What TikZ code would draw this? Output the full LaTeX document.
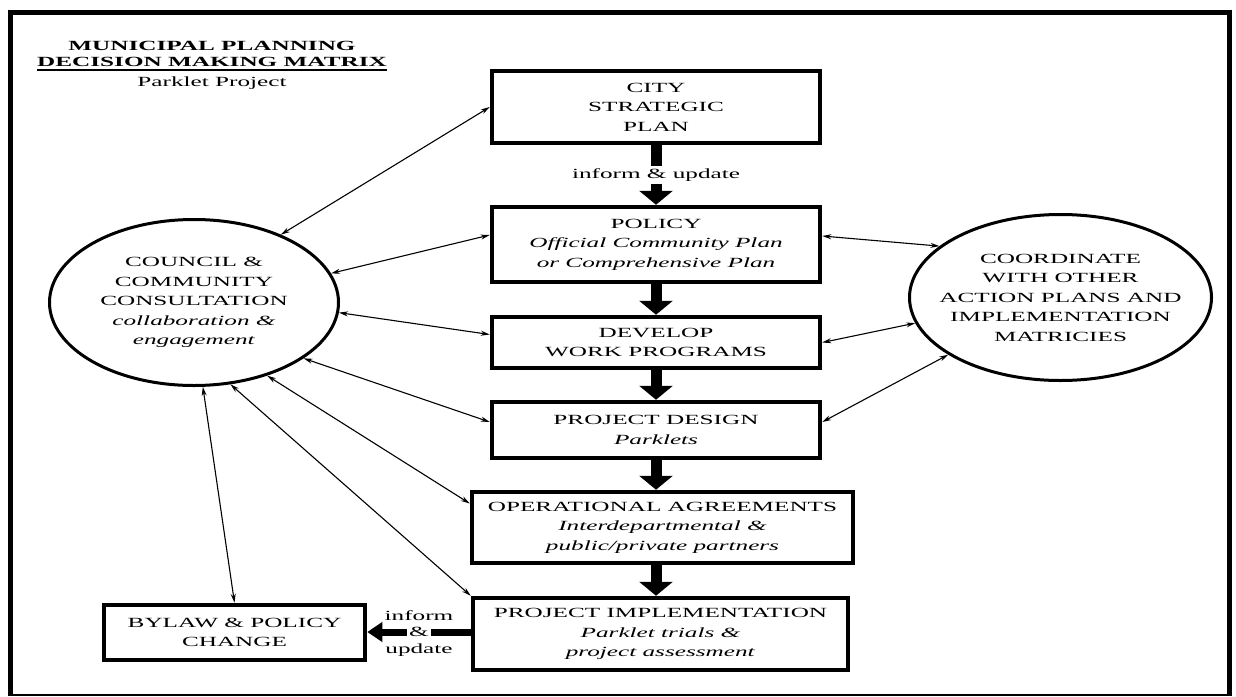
\documentclass[tikz,border=0pt]{standalone}
\usepackage{fontspec}
\setmainfont{Liberation Serif}[FakeStretch=1.8]
\usetikzlibrary{arrows.meta, shapes.geometric, positioning}

\begin{document}
\begin{tikzpicture}[x=1pt, y=-1pt,
    font=\fontsize{14}{19.5}\selectfont,
    box/.style={draw, line width=4.5pt, inner sep=0pt, align=center},
    bubble/.style={draw, ellipse, line width=3pt, inner sep=-15pt, align=center},
    link/.style={line width=1.1pt, {Stealth[length=9pt,width=5pt]}-{Stealth[length=9pt,width=5pt]}},
    bigarrow/.style={line width=11pt, -{Triangle[width=33pt,length=14pt]}},
    sidearrow/.style={line width=7pt, -{Triangle[width=19pt,length=15pt]}}]
  \useasboundingbox (0,0) rectangle (1236,696);
  % frame
  \draw[line width=5pt] (10.5,696) -- (10.5,12.5) -- (1229.5,12.5) -- (1229.5,696);
  \draw[line width=1.5pt] (8,695) -- (1232,695);
  % title
  \node[font=\fontsize{14}{16}\selectfont\bfseries, align=center, inner sep=0pt] (title) at (212,54) {MUNICIPAL PLANNING\\DECISION MAKING MATRIX};
  \draw[line width=1.5pt] ([yshift=-3pt]title.south west) -- ([yshift=-3pt]title.south east);
  \node[inner sep=0pt, below=10pt of title] (project) {Parklet Project};
  % main column
  \node[box, minimum width=328pt, minimum height=72pt] (cityplan) at (656,107) {CITY\\STRATEGIC\\PLAN};
  \node[box, minimum width=328pt, minimum height=75pt] (policy) at (656,244.5) {POLICY\\\textit{Official Community Plan}\\\textit{or Comprehensive Plan}};
  \node[box, minimum width=328pt, minimum height=51pt] (workprog) at (656,342.5) {DEVELOP\\WORK PROGRAMS};
  \node[box, minimum width=328pt, minimum height=56pt] (design) at (656,430) {PROJECT DESIGN\\\textit{Parklets}};
  \node[box, minimum width=381pt, minimum height=71pt] (agreements) at (662.5,527.5) {OPERATIONAL AGREEMENTS\\\textit{Interdepartmental \&}\\\textit{public/private partners}};
  \node[box, minimum width=375pt, minimum height=72pt] (implement) at (660.5,634) {PROJECT IMPLEMENTATION\\\textit{Parklet trials \&}\\\textit{project assessment}};
  \node[box, minimum width=261pt, minimum height=55pt] (bylaw) at (234.5,632.5) {BYLAW \& POLICY\\CHANGE};
  % side bubbles
  \node[bubble, minimum width=289pt, minimum height=166pt] (council) at (194,302.5) {COUNCIL \&\\COMMUNITY\\CONSULTATION\\\textit{collaboration \&}\\\textit{engagement}};
  \node[bubble, minimum width=302pt, minimum height=166pt] (otherplans) at (1060.5,297.5) {COORDINATE\\WITH OTHER\\ACTION PLANS AND\\IMPLEMENTATION\\MATRICIES};
  % flow
  \draw[bigarrow] (cityplan) -- node[fill=white, inner xsep=4pt, inner ysep=3pt] (informtop) {inform \& update} (policy);
  \draw[bigarrow] (policy) -- (workprog);
  \draw[bigarrow] (workprog) -- (design);
  \draw[bigarrow] (design.south) -- (design.south |- agreements.north);
  \draw[bigarrow] (agreements.south -| design.south) -- (implement.north -| design.south);
  \draw[sidearrow] (implement.west |- 0,632) -- node[fill=white, inner sep=2pt] (amp) {\&} (bylaw.east |- 0,632);
  \node[above=1pt of amp, inner sep=0pt] (informlow) {inform};
  \node[below=1pt of amp, inner sep=0pt] (updatelow) {update};
  % consultation links
  \draw[link] (council.38) -- (cityplan.west);
  \draw[link] (council.12) -- ([yshift=9.5pt]policy.west);
  \draw[link] (council.-4) -- ([yshift=8pt]workprog.west);
  \draw[link] (council.-27) -- ([yshift=8pt]design.west);
  \draw[link] (council.-45) -- ([yshift=24pt]agreements.west);
  \draw[link] (council.-66) -- (implement.north west);
  \draw[link] (council.-84) -- (bylaw.north);
  \draw[link] ([yshift=8.5pt]policy.east) -- (otherplans.157);
  \draw[link] (workprog.east) -- (otherplans.190);
  \draw[link] ([yshift=8pt]design.east) -- (otherplans.207);
\end{tikzpicture}
\end{document}
